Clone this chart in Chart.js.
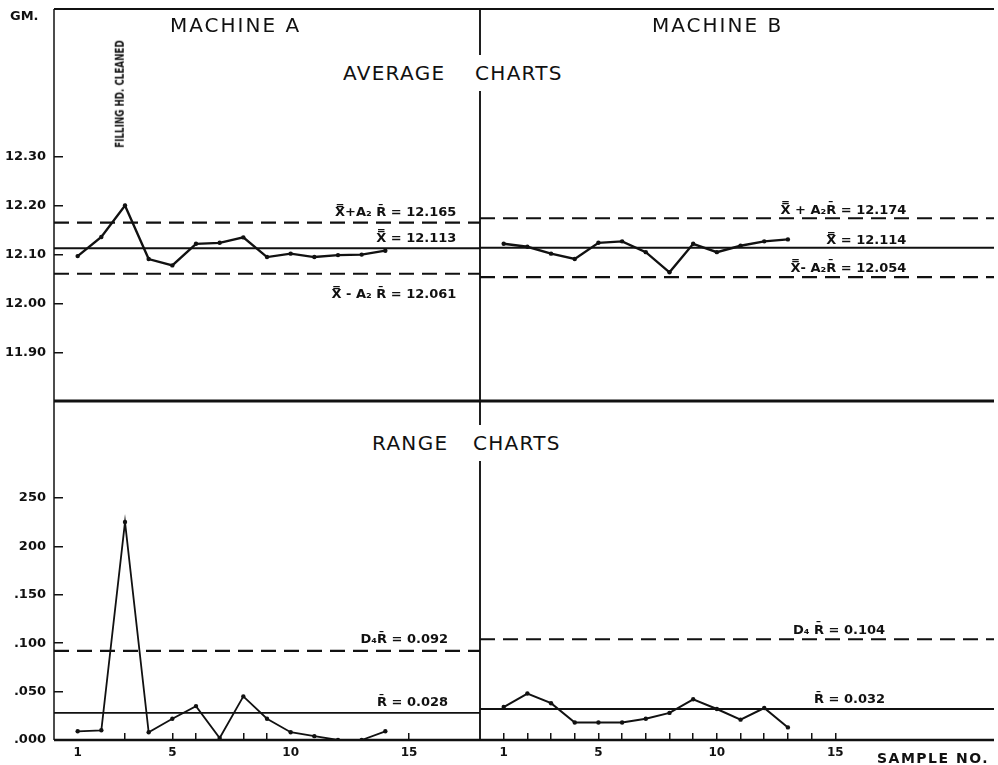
<!DOCTYPE html>
<html>
<head>
<meta charset="utf-8">
<script src="https://cdn.jsdelivr.net/npm/chart.js@4.4.1/dist/chart.umd.min.js"></script>
<style>
  html, body { margin: 0; padding: 0; background: #fff; }
  #wrap { position: relative; width: 998px; height: 765px; overflow: hidden; font-family: "DejaVu Sans", sans-serif; color: #111; }
  #wrap canvas { position: absolute; }
  .lbl { position: absolute; white-space: nowrap; line-height: 1; }
  .head { font-size: 20px; letter-spacing: 2px; }
  .sect { font-size: 20px; letter-spacing: 1.3px; word-spacing: 22px; background: #fff; padding: 8px 0; }
</style>
</head>
<body>
<div id="wrap">
  <canvas id="avgA" width="484" height="405" style="left:0;top:0"></canvas>
  <canvas id="avgB" width="522" height="405" style="left:476px;top:0"></canvas>
  <canvas id="rngA" width="484" height="368" style="left:0;top:397px"></canvas>
  <canvas id="rngB" width="522" height="368" style="left:476px;top:397px"></canvas>

  <div class="lbl" style="left:10px;top:9px;font-size:13px;font-weight:bold">GM.</div>
  <div class="lbl head" style="left:170px;top:15px">MACHINE A</div>
  <div class="lbl head" style="left:652px;top:15px">MACHINE B</div>
  <div class="lbl sect" style="left:343px;top:55px">AVERAGE CHARTS</div>
  <div class="lbl sect" style="left:372px;top:425px;word-spacing:17px">RANGE CHARTS</div>
  <div class="lbl" style="left:120px;top:94px;font-size:12.5px;font-weight:bold;transform:translate(-50%,-50%) rotate(-90deg) scaleX(0.7)">FILLING HD. CLEANED</div>
  <div class="lbl" style="left:877px;top:751px;font-size:14px;font-weight:bold;letter-spacing:1.5px">SAMPLE NO.</div>
</div>
<script>
// sample numbers
const samplesA = [1, 2, 3, 4, 5, 6, 7, 8, 9, 10, 11, 12, 13, 14];
const samplesB = [1, 2, 3, 4, 5, 6, 7, 8, 9, 10, 11, 12, 13];

// averages (gm.)
const avgA = [12.097, 12.136, 12.200, 12.091, 12.078, 12.122, 12.124, 12.135, 12.095, 12.102, 12.095, 12.099, 12.100, 12.108];
const avgB = [12.122, 12.116, 12.102, 12.091, 12.124, 12.127, 12.105, 12.064, 12.122, 12.105, 12.118, 12.127, 12.131];

// ranges
const rangeA = [0.009, 0.010, 0.225, 0.008, 0.022, 0.035, 0.002, 0.045, 0.022, 0.008, 0.004, 0.000, 0.000, 0.009];
const rangeB = [0.034, 0.048, 0.038, 0.018, 0.018, 0.018, 0.022, 0.028, 0.042, 0.032, 0.021, 0.033, 0.013];

// control limits: upper, centre, lower
const avgLimitsA = [12.165, 12.113, 12.061];
const avgLimitsB = [12.174, 12.114, 12.054];
// range limits: D4 R-bar, R-bar
const rangeLimitsA = [0.092, 0.028];
const rangeLimitsB = [0.104, 0.032];

// axes
const avgTicks = [11.90, 12.00, 12.10, 12.20, 12.30];
const avgTickLabels = ["11.90", "12.00", "12.10", "12.20", "12.30"];
const rangeTicks = [0, 0.05, 0.10, 0.15, 0.20, 0.25];
const rangeTickLabels = [".000", ".050", ".100", ".150", "200", "250"];
const sampleTicks = [1, 2, 3, 4, 5, 6, 7, 8, 9, 10, 11, 12, 13, 14, 15];
const sampleLabels = [1, 5, 10, 15];
const markedTicksA = [3, 5, 6, 8, 9, 15];
const markedTicksB = sampleTicks;

const INK = "#111";
const XX = "X\u033F";
const RB = "R\u0304";

const framePlugin = {
  id: "frame",
  afterDatasetsDraw(chart, args, opts) {
    const { ctx, chartArea: a } = chart;
    const e = opts.edges || {};
    ctx.save();
    ctx.strokeStyle = INK;
    const seg = (x1, y1, x2, y2, w) => {
      ctx.lineWidth = w;
      ctx.beginPath();
      ctx.moveTo(x1, y1);
      ctx.lineTo(x2, y2);
      ctx.stroke();
    };
    if (e.top) seg(a.left, a.top, a.right, a.top, e.top);
    if (e.bottom) seg(a.left, a.bottom, a.right, a.bottom, e.bottom);
    if (e.left) seg(a.left, a.top, a.left, a.bottom, e.left);
    if (e.right) seg(a.right, a.top, a.right, a.bottom, e.right);
    ctx.restore();
  }
};

const notePlugin = {
  id: "notes",
  afterDraw(chart, args, opts) {
    const { ctx } = chart;
    const x = chart.scales.x, y = chart.scales.y;
    ctx.save();
    ctx.fillStyle = INK;
    ctx.font = "bold 13px 'DejaVu Sans'";
    ctx.textAlign = "right";
    ctx.textBaseline = "middle";
    (opts.items || []).forEach(n => {
      ctx.fillText(n.text, x.getPixelForValue(n.at), y.getPixelForValue(n.value) + n.dy);
    });
    ctx.restore();
  }
};

function series(xs, ys, width) {
  return {
    data: xs.map((s, i) => ({ x: s, y: ys[i] })),
    borderColor: INK,
    borderWidth: width,
    pointRadius: 2.2,
    pointBackgroundColor: INK,
    pointBorderWidth: 0,
    tension: 0
  };
}

function limitLine(v, xMax, dashed) {
  return {
    data: [{ x: 0, y: v }, { x: xMax, y: v }],
    borderColor: INK,
    borderWidth: dashed ? 2.2 : 1.8,
    borderDash: dashed ? [15, 8] : [],
    pointRadius: 0
  };
}

// pin an axis to a fixed thickness and drop the label overhang padding
function pinAxis(size, vertical) {
  return s => {
    if (!s.options.display) return;
    if (vertical) s.width = size; else s.height = size;
    s.paddingTop = 0;
    s.paddingBottom = 0;
    s.paddingLeft = 0;
    s.paddingRight = 0;
  };
}

function controlChart(id, o) {
  return new Chart(document.getElementById(id), {
    type: "line",
    data: { datasets: o.datasets },
    options: {
      responsive: false,
      animation: false,
      events: [],
      layout: { padding: o.pad },
      plugins: {
        legend: { display: false },
        tooltip: { enabled: false },
        frame: { edges: o.edges },
        notes: { items: o.notes }
      },
      scales: {
        x: {
          type: "linear",
          min: 0,
          max: o.xMax,
          display: o.showX,
          afterFit: pinAxis(25, false),
          afterBuildTicks: s => { s.ticks = sampleTicks.map(v => ({ value: v })); },
          grid: {
            drawOnChartArea: false,
            tickLength: -7,
            lineWidth: 1.5,
            color: c => (c.tick && o.marked.includes(c.tick.value)) ? INK : "rgba(0,0,0,0)"
          },
          border: { display: false },
          ticks: {
            autoSkip: false,
            maxRotation: 0,
            padding: 13,
            color: INK,
            font: { family: "DejaVu Sans", weight: "bold", size: 12 },
            callback: v => sampleLabels.includes(v) ? String(v) : ""
          }
        },
        y: {
          min: o.yMin,
          max: o.yMax,
          display: o.showY,
          afterFit: pinAxis(54, true),
          afterBuildTicks: s => { s.ticks = o.yTicks.map(v => ({ value: v })); },
          grid: { drawOnChartArea: false, tickLength: -9, lineWidth: 1.5, color: INK },
          border: { display: false },
          ticks: {
            padding: 17,
            color: INK,
            font: { family: "DejaVu Sans", weight: "bold", size: 13 },
            callback: (v, i) => o.yLabels[i]
          }
        }
      }
    },
    plugins: [framePlugin, notePlugin]
  });
}

const X_MAX_A = 18;
const X_MAX_B = 21.7;

controlChart("avgA", {
  pad: { top: 9, right: 4, bottom: 4, left: 0 },
  edges: { top: 2, left: 1.5, right: 1.5, bottom: 3 },
  xMax: X_MAX_A, showX: false, marked: markedTicksA,
  yMin: 11.802, yMax: 12.60, showY: true, yTicks: avgTicks, yLabels: avgTickLabels,
  datasets: [
    limitLine(avgLimitsA[0], X_MAX_A, true),
    limitLine(avgLimitsA[1], X_MAX_A, false),
    limitLine(avgLimitsA[2], X_MAX_A, true),
    series(samplesA, avgA, 2.4)
  ],
  notes: [
    { text: XX + "+A\u2082 " + RB + " = 12.165", at: 17, value: avgLimitsA[0], dy: -10 },
    { text: XX + " = 12.113", at: 17, value: avgLimitsA[1], dy: -10 },
    { text: XX + " - A\u2082 " + RB + " = 12.061", at: 17, value: avgLimitsA[2], dy: 21 }
  ]
});

controlChart("avgB", {
  pad: { top: 9, right: 0, bottom: 4, left: 4 },
  edges: { top: 2, left: 1.5, bottom: 3 },
  xMax: X_MAX_B, showX: false, marked: markedTicksB,
  yMin: 11.802, yMax: 12.60, showY: false, yTicks: avgTicks, yLabels: avgTickLabels,
  datasets: [
    limitLine(avgLimitsB[0], X_MAX_B, true),
    limitLine(avgLimitsB[1], X_MAX_B, false),
    limitLine(avgLimitsB[2], X_MAX_B, true),
    series(samplesB, avgB, 2.4)
  ],
  notes: [
    { text: XX + " + A\u2082" + RB + " = 12.174", at: 18, value: avgLimitsB[0], dy: -8 },
    { text: XX + " = 12.114", at: 18, value: avgLimitsB[1], dy: -7 },
    { text: XX + "- A\u2082" + RB + " = 12.054", at: 18, value: avgLimitsB[2], dy: -9 }
  ]
});

controlChart("rngA", {
  pad: { top: 4, right: 4, bottom: 0, left: 0 },
  edges: { left: 1.5, right: 1.5, bottom: 2.5 },
  xMax: X_MAX_A, showX: true, marked: markedTicksA,
  yMin: 0, yMax: 0.35, showY: true, yTicks: rangeTicks, yLabels: rangeTickLabels,
  datasets: [
    limitLine(rangeLimitsA[0], X_MAX_A, true),
    limitLine(rangeLimitsA[1], X_MAX_A, false),
    series(samplesA, rangeA, 1.8)
  ],
  notes: [
    { text: "D\u2084" + RB + " = 0.092", at: 16.65, value: rangeLimitsA[0], dy: -11 },
    { text: RB + " = 0.028", at: 16.65, value: rangeLimitsA[1], dy: -10 }
  ]
});

controlChart("rngB", {
  pad: { top: 4, right: 0, bottom: 0, left: 4 },
  edges: { left: 1.5, bottom: 2.5 },
  xMax: X_MAX_B, showX: true, marked: markedTicksB,
  yMin: 0, yMax: 0.35, showY: false, yTicks: rangeTicks, yLabels: rangeTickLabels,
  datasets: [
    limitLine(rangeLimitsB[0], X_MAX_B, true),
    limitLine(rangeLimitsB[1], X_MAX_B, false),
    series(samplesB, rangeB, 2)
  ],
  notes: [
    { text: "D\u2084 " + RB + " = 0.104", at: 17.1, value: rangeLimitsB[0], dy: -9 },
    { text: RB + " = 0.032", at: 17.1, value: rangeLimitsB[1], dy: -9 }
  ]
});
</script>
</body>
</html>
